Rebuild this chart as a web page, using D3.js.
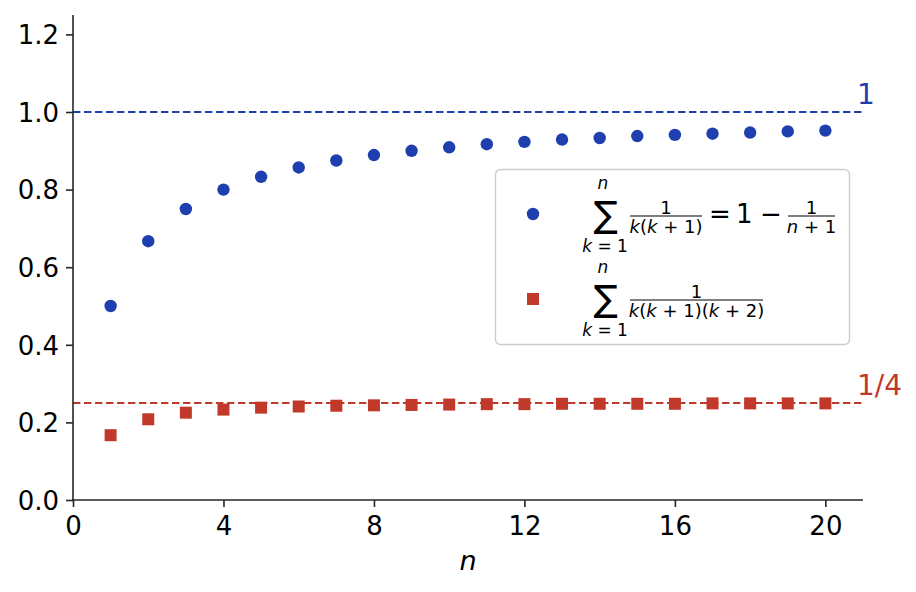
<!DOCTYPE html>
<html>
<head>
<meta charset="utf-8">
<script src="https://cdn.jsdelivr.net/npm/d3@7/dist/d3.min.js"></script>
<style>
  html, body { margin: 0; padding: 0; background: #fff; }
  svg { display: block; font-family: "DejaVu Sans", sans-serif; }
</style>
</head>
<body>
<svg id="chart" width="916" height="592"></svg>
<script>
// ---- data ----
const nValues = [1, 2, 3, 4, 5, 6, 7, 8, 9, 10, 11, 12, 13, 14, 15, 16, 17, 18, 19, 20];
const sumOneOverKK1 = [0.5, 0.667, 0.75, 0.8, 0.833, 0.857, 0.875, 0.889, 0.9, 0.909,
                       0.917, 0.923, 0.929, 0.933, 0.938, 0.941, 0.944, 0.947, 0.95, 0.952];
const sumOneOverKK1K2 = [0.167, 0.208, 0.225, 0.233, 0.238, 0.241, 0.243, 0.244, 0.245, 0.246,
                         0.247, 0.247, 0.248, 0.248, 0.248, 0.248, 0.249, 0.249, 0.249, 0.249];
const limitValues = [1, 0.25];
const limitLabels = ["1", "1/4"];
const xTickValues = [0, 4, 8, 12, 16, 20];
const yTickValues = [0, 0.2, 0.4, 0.6, 0.8, 1.0, 1.2];
const xDomain = [0, 21];
const yDomain = [0, 1.25];

// ---- styling ----
const BLUE = "#1f3fae";
const RED = "#c0392b";
const AXIS = "#262626";
const plot = { left: 73, right: 863, top: 15, bottom: 500 };

const svg = d3.select("#chart");
const x = d3.scaleLinear().domain(xDomain).range([plot.left, plot.right]);
const y = d3.scaleLinear().domain(yDomain).range([plot.bottom, plot.top]);

// limit lines
const limitColors = [BLUE, RED];
svg.append("g").selectAll("line").data(limitValues).join("line")
  .attr("x1", x(xDomain[0])).attr("x2", x(xDomain[1]))
  .attr("y1", d => Math.round(y(d))).attr("y2", d => Math.round(y(d)))
  .attr("stroke", (d, i) => limitColors[i])
  .attr("stroke-width", 2)
  .attr("stroke-dasharray", "7.4,3.6");

svg.append("g").selectAll("text").data(limitValues).join("text")
  .attr("x", x(xDomain[1]) - 6)
  .attr("y", d => y(d) - 8)
  .attr("fill", (d, i) => limitColors[i])
  .attr("font-size", 28)
  .text((d, i) => limitLabels[i]);

// series 1: circles
svg.append("g").selectAll("circle").data(nValues).join("circle")
  .attr("cx", d => x(d))
  .attr("cy", (d, i) => y(sumOneOverKK1[i]))
  .attr("r", 6.2)
  .attr("fill", BLUE);

// series 2: squares
const sq = 12;
svg.append("g").selectAll("rect").data(nValues).join("rect")
  .attr("x", d => x(d) - sq / 2)
  .attr("y", (d, i) => y(sumOneOverKK1K2[i]) - sq / 2)
  .attr("width", sq).attr("height", sq)
  .attr("fill", RED);

// axes
const xAxis = d3.axisBottom(x).tickValues(xTickValues).tickFormat(d3.format("d")).tickSizeOuter(0).tickSize(7).tickPadding(8);
const yAxis = d3.axisLeft(y).tickValues(yTickValues).tickFormat(d3.format(".1f")).tickSizeOuter(0).tickSize(7).tickPadding(7);

const gx = svg.append("g").attr("transform", `translate(0,${plot.bottom})`).call(xAxis);
const gy = svg.append("g").attr("transform", `translate(${plot.left},0)`).call(yAxis);
[gx, gy].forEach(g => {
  g.select(".domain").remove();
  g.selectAll(".tick line").attr("stroke", AXIS).attr("stroke-width", 1.6);
  g.selectAll(".tick text").attr("fill", "#000").attr("font-size", 26)
    .attr("font-family", "DejaVu Sans, sans-serif");
});
gy.selectAll(".tick text").attr("dy", "0.36em");
gx.selectAll(".tick text").attr("dy", "0.76em");

// spines (left and bottom only)
svg.append("line").attr("x1", plot.left).attr("x2", plot.left)
  .attr("y1", plot.top).attr("y2", plot.bottom + 0.8)
  .attr("stroke", AXIS).attr("stroke-width", 1.6);
svg.append("line").attr("x1", plot.left - 0.8).attr("x2", plot.right)
  .attr("y1", plot.bottom).attr("y2", plot.bottom)
  .attr("stroke", AXIS).attr("stroke-width", 1.6);

// x axis label
svg.append("text")
  .attr("x", (plot.left + plot.right) / 2)
  .attr("y", 570)
  .attr("text-anchor", "middle")
  .attr("font-size", 27)
  .attr("font-style", "italic")
  .text("n");

// ---- legend ----
const legend = svg.append("g");
legend.append("rect")
  .attr("x", 495.5).attr("y", 169.5)
  .attr("width", 354).attr("height", 175)
  .attr("rx", 5).attr("ry", 5)
  .attr("fill", "#fff").attr("fill-opacity", 0.8)
  .attr("stroke", "#cccccc").attr("stroke-width", 1.4);

legend.append("circle").attr("cx", 533).attr("cy", 214).attr("r", 6.2).attr("fill", BLUE);
legend.append("rect").attr("x", 533 - sq / 2).attr("y", 299 - sq / 2)
  .attr("width", sq).attr("height", sq).attr("fill", RED);

const SMALL = 17, FRAC = 18, MAIN = 26;

function mathText(g, xPos, yPos, parts, size, anchor) {
  const t = g.append("text").attr("x", xPos).attr("y", yPos)
    .attr("font-size", size).attr("text-anchor", anchor || "middle")
    .attr("xml:space", "preserve");
  parts.forEach(p => {
    t.append("tspan").attr("font-style", p[1] ? "italic" : "normal").text(p[0]);
  });
  return t;
}

function sumBlock(g, cx, axisY) {
  g.append("text").attr("x", cx + 2).attr("y", axisY + 11)
    .attr("text-anchor", "middle").attr("font-size", 36).text("\u2211");
  mathText(g, cx - 1, axisY - 27, [["n", true]], SMALL);
  mathText(g, cx + 1, axisY + 36, [["k", true], [" = 1", false]], SMALL);
}

function frac(g, x1, x2, axisY, num, den) {
  const cx = (x1 + x2) / 2;
  g.append("line").attr("x1", x1).attr("x2", x2).attr("y1", axisY).attr("y2", axisY)
    .attr("stroke", "#000").attr("stroke-width", 1.1);
  mathText(g, cx, axisY - 2, num, FRAC);
  mathText(g, cx, axisY + 17, den, FRAC);
}

// item 1
const ax1 = 216;
sumBlock(legend, 604, ax1);
frac(legend, 630, 702, ax1, [["1", false]],
  [["k", true], ["(", false], ["k", true], [" + 1)", false]]);
legend.append("text").attr("x", 709).attr("y", ax1 + 7).attr("font-size", MAIN).text("=");
legend.append("text").attr("x", 736).attr("y", ax1 + 7).attr("font-size", MAIN).text("1");
legend.append("text").attr("x", 760).attr("y", ax1 + 7).attr("font-size", MAIN).text("\u2212");
frac(legend, 788, 835, ax1, [["1", false]],
  [["n", true], [" + 1", false]]);

// item 2
const ax2 = 300;
sumBlock(legend, 604, ax2);
frac(legend, 630, 763, ax2, [["1", false]],
  [["k", true], ["(", false], ["k", true], [" + 1)(", false], ["k", true], [" + 2)", false]]);
</script>
</body>
</html>
